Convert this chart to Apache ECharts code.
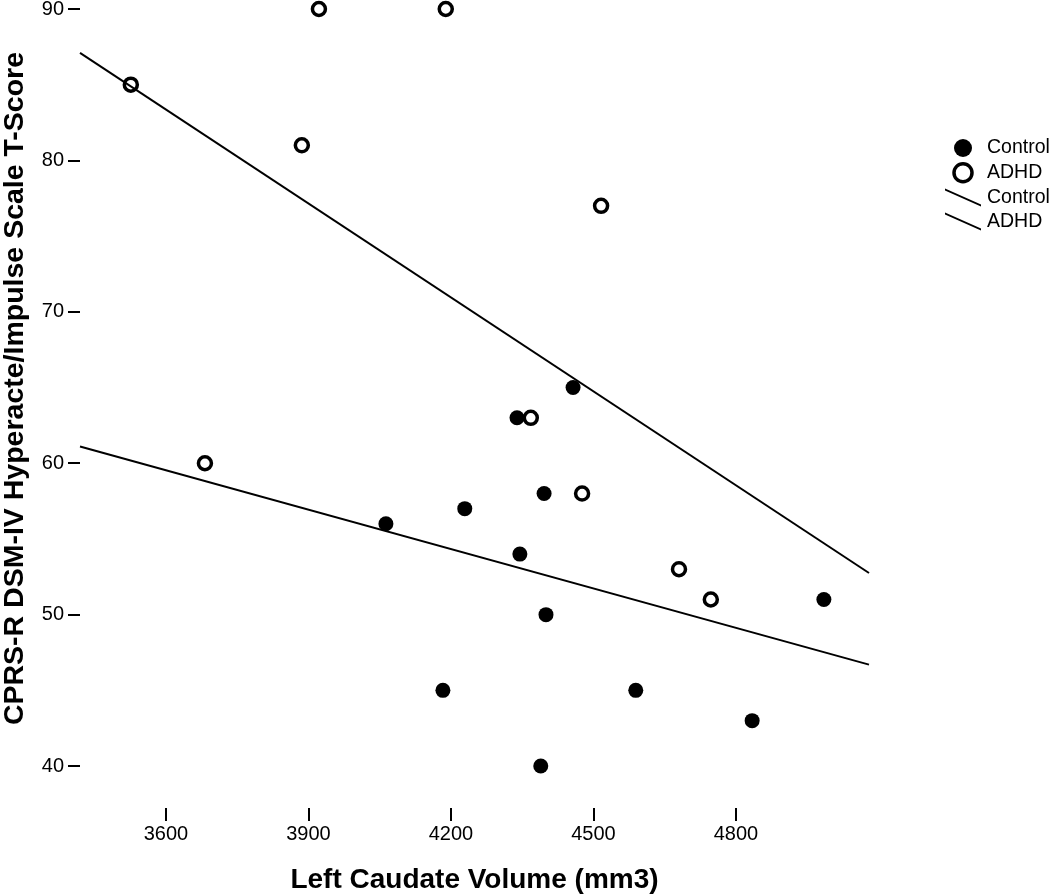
<!DOCTYPE html>
<html>
<head>
<meta charset="utf-8">
<script src="https://cdn.jsdelivr.net/npm/echarts@6/dist/echarts.min.js"></script>
<style>html,body{margin:0;padding:0;background:#fff;}#c{width:1050px;height:896px;}</style>
</head>
<body>
<div id="c"></div>
<script>
// Data
const controlPoints = [
  [4457, 65], [4339, 63], [4396, 58], [4229, 57], [4063, 56], [4345, 54],
  [4400, 50], [4985, 51], [4183, 45], [4589, 45], [4834, 43], [4389, 40]
];
const adhdPoints = [
  [3526, 85], [3922, 90], [4189, 90], [3886, 81], [4516, 77], [4368, 63],
  [3682, 60], [4476, 58], [4680, 53], [4747, 51]
];
const controlFit = [[3419, 61.1], [5080, 46.7]];
const adhdFit = [[3419, 87.1], [5080, 52.75]];
const xTicks = [3600, 3900, 4200, 4500, 4800];
const yTicks = [40, 50, 60, 70, 80, 90];

const FONT = 'Liberation Sans, Arial, sans-serif';
const chart = echarts.init(document.getElementById('c'), null, {renderer: 'canvas'});
const lineIcon = 'path://M0,0 L36,16 L36,18 L0,2 Z';
const plain = function (v) { return String(v); };

chart.setOption({
  backgroundColor: '#fff',
  animation: false,
  grid: {left: 80, right: 181, top: 9, bottom: 88, containLabel: false, outerBoundsMode: 'none'},
  xAxis: {
    type: 'value', min: 3419, max: 5080,
    name: 'Left Caudate Volume (mm3)', nameLocation: 'middle', nameGap: 58,
    nameTextStyle: {fontFamily: FONT, fontWeight: 'bold', fontSize: 28, color: '#000'},
    axisLine: {show: false},
    axisTick: {show: true, length: 13, customValues: xTicks, lineStyle: {color: '#000', width: 2}},
    axisLabel: {customValues: xTicks, formatter: plain, fontFamily: FONT, fontSize: 20, color: '#000', margin: 16},
    splitLine: {show: false}
  },
  yAxis: {
    type: 'value', min: 37.23, max: 90,
    name: 'CPRS-R DSM-IV Hyperacte/Impulse Scale T-Score', nameLocation: 'middle', nameGap: 50,
    nameTextStyle: {fontFamily: FONT, fontWeight: 'bold', fontSize: 28.5, color: '#000', padding: [0, 0, 0, 40]},
    axisLine: {show: false},
    axisTick: {show: true, length: 12, customValues: yTicks, lineStyle: {color: '#000', width: 2}},
    axisLabel: {customValues: yTicks, formatter: plain, fontFamily: FONT, fontSize: 20, color: '#000', margin: 16},
    splitLine: {show: false}
  },
  legend: {
    orient: 'vertical', left: 940, top: 133, itemWidth: 38, itemHeight: 18, itemGap: 4,
    textStyle: {fontFamily: FONT, fontSize: 19.5, color: '#000'},
    data: [
      {name: 'Control', icon: 'circle'},
      {name: 'ADHD', icon: 'circle', itemStyle: {color: '#fff', borderColor: '#000', borderWidth: 3.5}},
      {name: 'Control ', icon: lineIcon},
      {name: 'ADHD ', icon: lineIcon}
    ],
    formatter: function (n) { return n.trim(); }
  },
  series: [
    {name: 'Control', type: 'scatter', data: controlPoints, symbolSize: 15, clip: false,
      itemStyle: {color: '#000', opacity: 1}},
    {name: 'ADHD', type: 'scatter', data: adhdPoints, symbolSize: 13, clip: false,
      itemStyle: {color: '#fff', borderColor: '#000', borderWidth: 3.5, opacity: 1}},
    {name: 'Control ', type: 'line', data: controlFit, symbol: 'none', clip: false,
      lineStyle: {color: '#000', width: 2}, itemStyle: {color: '#000'}},
    {name: 'ADHD ', type: 'line', data: adhdFit, symbol: 'none', clip: false,
      lineStyle: {color: '#000', width: 2}, itemStyle: {color: '#000'}}
  ]
});
</script>
</body>
</html>
